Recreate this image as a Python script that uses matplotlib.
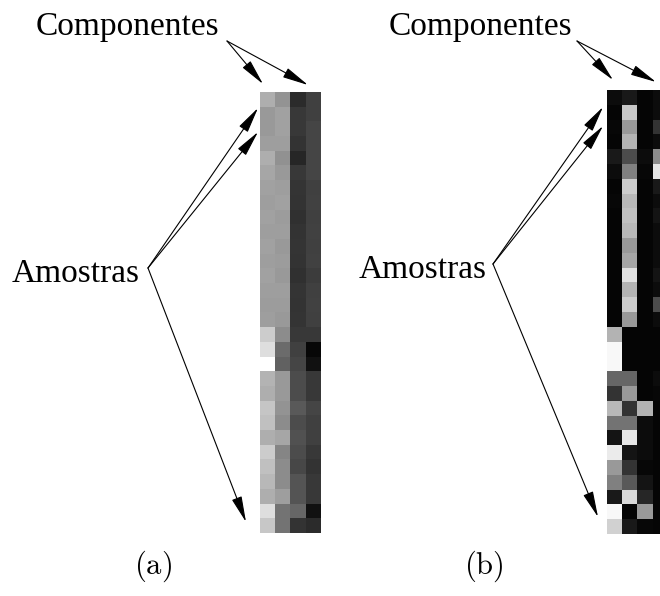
import numpy as np
import matplotlib
matplotlib.use("Agg")
import matplotlib.pyplot as plt

# Grayscale intensities (0=black, 1=white), 30 samples x 4 components
matrix_a = [
    [0.68, 0.58, 0.17, 0.25], [0.60, 0.63, 0.22, 0.25], [0.60, 0.63, 0.22, 0.27],
    [0.62, 0.62, 0.20, 0.27], [0.68, 0.57, 0.15, 0.27], [0.65, 0.60, 0.22, 0.27],
    [0.63, 0.62, 0.21, 0.25], [0.62, 0.63, 0.20, 0.26], [0.63, 0.61, 0.19, 0.25],
    [0.62, 0.62, 0.20, 0.26], [0.63, 0.60, 0.21, 0.25], [0.62, 0.61, 0.20, 0.26],
    [0.63, 0.60, 0.19, 0.24], [0.62, 0.62, 0.21, 0.25], [0.61, 0.61, 0.20, 0.26],
    [0.62, 0.60, 0.21, 0.25], [0.80, 0.55, 0.22, 0.22], [0.87, 0.42, 0.25, 0.03],
    [1.00, 0.38, 0.27, 0.07], [0.70, 0.60, 0.30, 0.22], [0.68, 0.60, 0.30, 0.22],
    [0.77, 0.58, 0.35, 0.27], [0.75, 0.55, 0.30, 0.25], [0.68, 0.65, 0.32, 0.25],
    [0.80, 0.52, 0.30, 0.22], [0.75, 0.55, 0.28, 0.20], [0.72, 0.55, 0.33, 0.22],
    [0.68, 0.62, 0.33, 0.22], [0.87, 0.45, 0.40, 0.07], [0.78, 0.45, 0.20, 0.17],
]
matrix_b = [
    [0.05, 0.10, 0.02, 0.05], [0.02, 0.78, 0.02, 0.05], [0.03, 0.60, 0.02, 0.20],
    [0.02, 0.70, 0.02, 0.05], [0.10, 0.30, 0.05, 0.55], [0.05, 0.50, 0.03, 0.90],
    [0.02, 0.80, 0.02, 0.10], [0.03, 0.72, 0.02, 0.05], [0.02, 0.75, 0.02, 0.08],
    [0.02, 0.72, 0.02, 0.05], [0.02, 0.60, 0.02, 0.05], [0.02, 0.65, 0.02, 0.05],
    [0.02, 0.88, 0.02, 0.08], [0.02, 0.70, 0.02, 0.05], [0.02, 0.80, 0.02, 0.30],
    [0.02, 0.60, 0.02, 0.05], [0.70, 0.02, 0.02, 0.02], [0.97, 0.02, 0.02, 0.02],
    [0.97, 0.02, 0.02, 0.02], [0.40, 0.40, 0.02, 0.05], [0.20, 0.60, 0.02, 0.03],
    [0.72, 0.20, 0.70, 0.02], [0.45, 0.45, 0.05, 0.02], [0.08, 0.90, 0.05, 0.02],
    [0.92, 0.08, 0.05, 0.02], [0.60, 0.20, 0.03, 0.02], [0.50, 0.35, 0.08, 0.02],
    [0.10, 0.85, 0.15, 0.02], [0.97, 0.02, 0.60, 0.02], [0.82, 0.10, 0.03, 0.02],
]
label_components = "Componentes"
label_samples = "Amostras"
panel_labels = ["(a)", "(b)"]

W, H = 660, 596
fig = plt.figure(figsize=(W / 100, H / 100), dpi=100)
ax = fig.add_axes([0, 0, 1, 1])
ax.axis("off")

ax.imshow(np.array(matrix_a), cmap="gray", vmin=0, vmax=1, interpolation="nearest",
          extent=(260, 321, 533, 92), aspect="auto")
ax.imshow(np.array(matrix_b), cmap="gray", vmin=0, vmax=1, interpolation="nearest",
          extent=(607, 668, 534, 90), aspect="auto")
ax.set_xlim(0, W)
ax.set_ylim(H, 0)

serif = ["Liberation Serif", "DejaVu Serif"]
ax.text(127, 27, label_components, fontsize=24, family=serif, ha="center", va="center")
ax.text(480, 27, label_components, fontsize=24, family=serif, ha="center", va="center")
ax.text(76, 274, label_samples, fontsize=24, family=serif, ha="center", va="center")
ax.text(423, 270, label_samples, fontsize=24, family=serif, ha="center", va="center")

plt.rcParams["mathtext.fontset"] = "cm"
ax.text(153, 566, r"$\mathrm{" + panel_labels[0] + "}$", fontsize=22, ha="center", va="center")
ax.text(484, 566, r"$\mathrm{" + panel_labels[1] + "}$", fontsize=22, ha="center", va="center")

aprops = dict(arrowstyle="-|>,head_length=1.0,head_width=0.2", lw=0.8, color="black",
              mutation_scale=16, shrinkA=0, shrinkB=0)

def arrow(x0, y0, x1, y1):
    ax.annotate("", xy=(x1, y1), xytext=(x0, y0), arrowprops=aprops)

# Panel (a)
arrow(227, 41, 263, 84)
arrow(227, 41, 308, 85)
arrow(148, 268, 258, 108)
arrow(148, 268, 258, 132)
arrow(148, 268, 246, 522)
# Panel (b)
arrow(577, 41, 613, 80)
arrow(577, 41, 656, 82)
arrow(493, 264, 603, 107)
arrow(493, 264, 603, 126)
arrow(493, 264, 598, 517)

fig.savefig("out.png", dpi=100)
